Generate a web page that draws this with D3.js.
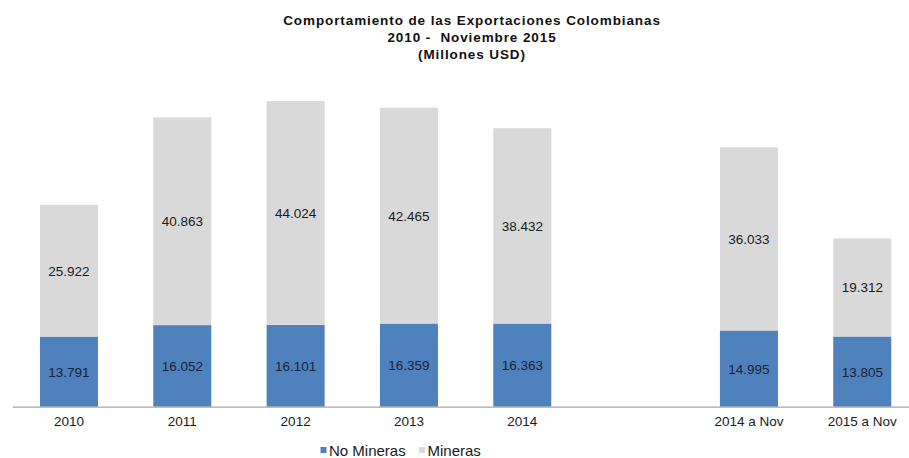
<!DOCTYPE html>
<html>
<head>
<meta charset="utf-8">
<script src="https://cdn.jsdelivr.net/npm/d3@7"></script>
<style>
  html, body { margin: 0; padding: 0; background: #fff; }
  svg { display: block; font-family: "Liberation Sans", Arial, sans-serif; }
</style>
</head>
<body>
<svg id="chart" width="909" height="458"></svg>
<script>
// Export figures (thousand-separated with a dot, as in Spanish notation)
const categories = ["2010", "2011", "2012", "2013", "2014", "", "2014 a Nov", "2015 a Nov"];
const noMineras = [13.791, 16.052, 16.101, 16.359, 16.363, null, 14.995, 13.805];
const mineras   = [25.922, 40.863, 44.024, 42.465, 38.432, null, 36.033, 19.312];
const seriesNames = ["No Mineras", "Mineras"];
const titleLines = [
  "Comportamiento de las Exportaciones Colombianas",
  "2010 -  Noviembre 2015",
  "(Millones USD)"
];

const colors = { "No Mineras": "#4f81bd", "Mineras": "#d9d9d9" };

const svg = d3.select("#chart");

const x = d3.scaleBand()
  .domain(categories.map((c, i) => i))
  .range([12.3, 12.3 + 113.33 * categories.length])
  .paddingInner(0.488)
  .paddingOuter(0.244);

const y = d3.scaleLinear().domain([0, 70]).range([406.7, 50.9]);

const fmt = v => v.toFixed(3);

// title
svg.append("g").selectAll("text").data(titleLines).join("text")
  .attr("x", 472)
  .attr("y", (d, i) => 24.5 + i * 17.3)
  .attr("text-anchor", "middle")
  .attr("font-size", 13.5)
  .attr("font-weight", "bold")
  .attr("letter-spacing", 0.9)
  .attr("fill", "#111")
  .style("white-space", "pre")
  .text(d => d);

const rows = categories.map((c, i) => ({ i, c, nm: noMineras[i], m: mineras[i] }))
  .filter(d => d.nm !== null);

const bars = svg.append("g");
// No Mineras (bottom)
bars.selectAll("rect.nm").data(rows).join("rect")
  .attr("class", "nm")
  .attr("x", d => x(d.i))
  .attr("width", x.bandwidth())
  .attr("y", d => y(d.nm))
  .attr("height", d => y(0) - y(d.nm))
  .attr("fill", colors["No Mineras"]);
// Mineras (stacked on top)
bars.selectAll("rect.m").data(rows).join("rect")
  .attr("class", "m")
  .attr("x", d => x(d.i))
  .attr("width", x.bandwidth())
  .attr("y", d => y(d.nm + d.m))
  .attr("height", d => y(d.nm) - y(d.nm + d.m))
  .attr("fill", colors["Mineras"]);

// value labels
const labels = svg.append("g").attr("font-size", 13.5).attr("text-anchor", "middle");
labels.selectAll("text.nm").data(rows).join("text")
  .attr("x", d => x(d.i) + x.bandwidth() / 2)
  .attr("y", d => (y(0) + y(d.nm)) / 2 + 5)
  .attr("fill", "#1a2236")
  .text(d => fmt(d.nm));
labels.selectAll("text.m").data(rows).join("text")
  .attr("x", d => x(d.i) + x.bandwidth() / 2)
  .attr("y", d => (y(d.nm) + y(d.nm + d.m)) / 2 + 5)
  .attr("fill", "#1a1a1a")
  .text(d => fmt(d.m));

// category axis
const axis = svg.append("g")
  .attr("transform", `translate(0,${y(0)})`)
  .call(d3.axisBottom(x).tickSize(0).tickPadding(10).tickFormat(i => categories[i]));
axis.select(".domain").attr("stroke", "#a6a6a6").attr("stroke-width", 1.2);
axis.selectAll("text")
  .attr("font-size", 13.5)
  .attr("font-family", "Liberation Sans, Arial, sans-serif")
  .attr("fill", "#1a1a1a");

// legend
const legendItems = [
  { name: seriesNames[0], x: 320.5 },
  { name: seriesNames[1], x: 419 }
];
const legend = svg.append("g");
legend.selectAll("rect").data(legendItems).join("rect")
  .attr("x", d => d.x).attr("y", 447)
  .attr("width", 6).attr("height", 6)
  .attr("fill", d => colors[d.name]);
legend.selectAll("text").data(legendItems).join("text")
  .attr("x", d => d.x + 8.5).attr("y", 455.5)
  .attr("font-size", 15)
  .attr("fill", "#1a1a1a")
  .text(d => d.name);
</script>
</body>
</html>
